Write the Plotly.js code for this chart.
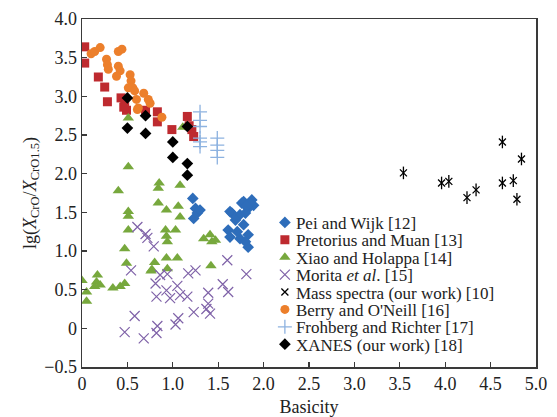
<!DOCTYPE html>
<html><head><meta charset="utf-8">
<script src="https://cdn.plot.ly/plotly-3.0.1.min.js"></script>
<style>html,body{margin:0;padding:0;background:#fff}#chart{width:557px;height:417px}</style>
</head><body><div id="chart"></div>
<script>
// Pei and Wijk [12]
const peiX = [1.22,1.25,1.27,1.23,1.30,1.76,1.78,1.87,1.89,1.83,1.80,1.74,1.69,1.65,1.63,1.61,1.63,1.74,1.83,1.83,1.80,1.71,1.78,1.85,1.81];
const peiY = [1.68,1.55,1.49,1.42,1.53,1.62,1.64,1.66,1.59,1.55,1.49,1.47,1.40,1.49,1.51,1.27,1.18,1.16,1.21,1.05,1.12,1.25,1.34,1.62,1.58];
// Pretorius and Muan [13]
const preX = [0.03,0.03,0.18,0.25,0.28,0.43,0.47,0.49,0.46,0.70,0.83,0.83,0.99,1.16,1.21,1.23,1.18];
const preY = [3.64,3.43,3.25,3.12,2.93,2.98,2.91,2.82,2.86,2.82,2.80,2.67,2.57,2.74,2.57,2.48,2.62];
// Xiao and Holappa [14]
const xiaoX = [0.00,0.05,0.05,0.17,0.16,0.14,0.20,0.34,0.42,0.47,0.47,0.49,0.40,0.51,0.51,0.51,0.51,0.51,0.77,0.80,0.76,0.84,0.85,0.84,0.93,0.92,0.93,0.94,0.93,0.94,1.03,1.05,1.06,1.08,1.08,1.11,1.34,1.41,1.43,1.47,1.42];
const xiaoY = [0.62,0.47,0.35,0.69,0.60,0.54,0.56,0.52,0.54,0.58,1.03,0.84,1.78,2.09,1.51,1.45,1.27,2.72,0.76,0.85,0.74,1.62,1.88,1.81,1.53,1.27,1.19,1.12,0.91,0.77,1.27,0.91,1.58,1.85,1.44,2.60,1.16,1.21,1.12,1.14,0.81];
// Morita et al. [15]
const morX = [0.61,0.70,0.72,0.79,0.54,0.86,0.94,0.81,0.93,0.82,0.97,1.05,1.08,1.16,1.17,1.25,1.39,1.39,1.37,1.41,1.23,1.06,1.03,0.83,0.82,0.68,0.58,0.47,1.60,1.55,1.61,1.81];
const morY = [1.31,1.22,1.17,1.06,0.75,0.69,0.70,0.58,0.49,0.41,0.39,0.55,0.43,0.41,0.71,0.75,0.46,0.32,0.25,0.19,0.21,0.13,0.05,0.03,-0.06,-0.13,0.16,-0.05,0.88,0.57,0.47,0.70];
// Mass spectra (our work) [10]
const massX = [3.54,3.96,4.04,4.24,4.34,4.63,4.84,4.63,4.75,4.79];
const massY = [2.01,1.88,1.90,1.69,1.79,2.41,2.19,1.88,1.91,1.67];
// Berry and O'Neill [16]
const berX = [0.10,0.14,0.20,0.40,0.44,0.27,0.28,0.29,0.40,0.42,0.38,0.53,0.54,0.51,0.56,0.58,0.60,0.73,0.75,0.62,0.68,0.88,0.61];
const berY = [3.55,3.58,3.63,3.58,3.61,3.48,3.41,3.35,3.39,3.33,3.26,3.28,3.20,3.11,3.11,3.07,2.96,2.96,2.91,2.85,3.04,2.73,2.83];
// Frohberg and Richter [17]
const froX = [1.30,1.30,1.30,1.30,1.30,1.30,1.49,1.49,1.49,1.49];
const froY = [2.80,2.69,2.61,2.46,2.41,2.35,2.46,2.37,2.30,2.21];
// XANES (our work) [18]
const xanX = [0.50,0.50,0.70,0.70,1.00,1.00,1.16,1.16,1.16];
const xanY = [2.98,2.59,2.75,2.52,2.41,2.21,2.61,2.13,1.98];

const xTickVals = [0,0.5,1,1.5,2,2.5,3,3.5,4,4.5,5];
const xTickText = ["0","0.5","1.0","1.5","2.0","2.5","3.0","3.5","4.0","4.5","5.0"];
const yTickVals = [-0.5,0,0.5,1,1.5,2,2.5,3,3.5,4];
const yTickText = ["\u22120.5","0","0.5","1.0","1.5","2.0","2.5","3.0","3.5","4.0"];

const FONT = "Liberation Serif";
function sc(x, y, name, symbol, color, size, lw, extra) {
  const t = {type:'scatter', mode:'markers', x:x, y:y, name:name,
    marker:{symbol:symbol, color:color, size:size, line:{width:lw, color:color}}};
  return Object.assign(t, extra || {});
}
const traces = [
  sc(peiX, peiY, 'Pei and Wijk [12]', 'diamond', '#2E6DBA', 9, 0),
  sc(preX, preY, 'Pretorius and Muan [13]', 'square', '#BE2A2F', 9, 0),
  sc(xiaoX, xiaoY, 'Xiao and Holappa [14]', 'triangle-up', '#77A83D', 10, 0),
  sc(morX, morY, 'Morita <i>et al</i>. [15]', 'x-thin-open', '#7F62A8', 10, 1.2),
  sc(massX, massY, 'Mass spectra (our work) [10]', 'x-thin-open', '#000000', 7, 1.3),
  sc(massX, massY, 'Mass spectra (our work) [10]', 'line-ns-open', '#000000', 9, 1.3, {showlegend:false}),
  sc(berX, berY, "Berry and O'Neill [16]", 'circle', '#EC7F2B', 9, 0),
  sc(froX, froY, 'Frohberg and Richter [17]', 'cross-thin-open', '#8DB2E0', 10, 1.3),
  sc(xanX, xanY, 'XANES (our work) [18]', 'diamond', '#000000', 9, 0)
];

const axisCommon = {showgrid:false, zeroline:false, showline:true, mirror:true, linecolor:'#3a3a3a', linewidth:1.5,
  automargin:false, ticks:'inside', ticklen:5, tickwidth:1.2, tickcolor:'#3a3a3a',
  tickfont:{family:FONT, size:18, color:'#222'}};
const layout = {
  width:557, height:417, paper_bgcolor:'#fff', plot_bgcolor:'#fff',
  margin:{l:82, r:21, t:19, b:50, autoexpand:false},
  font:{family:FONT, color:'#222'},
  xaxis:Object.assign({}, axisCommon, {range:[0,5], tickvals:xTickVals, ticktext:xTickText,
    title:{text:'Basicity', font:{family:FONT, size:18, color:'#222'}}}),
  yaxis:Object.assign({}, axisCommon, {range:[-0.5,4], tickvals:yTickVals, ticktext:yTickText,
    title:{text:'lg(<i>X</i><sub>CrO</sub>/<i>X</i><sub>CrO1.5</sub>)', font:{family:FONT, size:18, color:'#222'}}}),
  showlegend:true,
  legend:{x:0.383, y:0.466, xanchor:'left', yanchor:'top', bgcolor:'rgba(255,255,255,0)', borderwidth:0,
    font:{family:FONT, size:17, color:'#222'}, traceorder:'normal'}
};
Plotly.newPlot('chart', traces, layout, {displayModeBar:false, staticPlot:true}).then(function(gd){
  // tighten legend row spacing and marker-text gap to match the reference
  const items = gd.querySelectorAll('.legend .traces');
  if (items.length > 1) {
    const parse = el => { const m = /translate\(\s*([-\d.]+)[ ,]+([-\d.]+)/.exec(el.getAttribute('transform')||''); return m ? [parseFloat(m[1]), parseFloat(m[2])] : [0,0]; };
    const p0 = parse(items[0]);
    const step = 17.4;
    items.forEach((el, i) => {
      const p = parse(el);
      el.setAttribute('transform', 'translate(' + p[0] + ',' + (p0[1] + i*step) + ')');
      const lp = el.querySelector('.legendpoints');
      if (lp) lp.setAttribute('transform', 'translate(9,0)');
    });
  }
});
</script></body></html>
